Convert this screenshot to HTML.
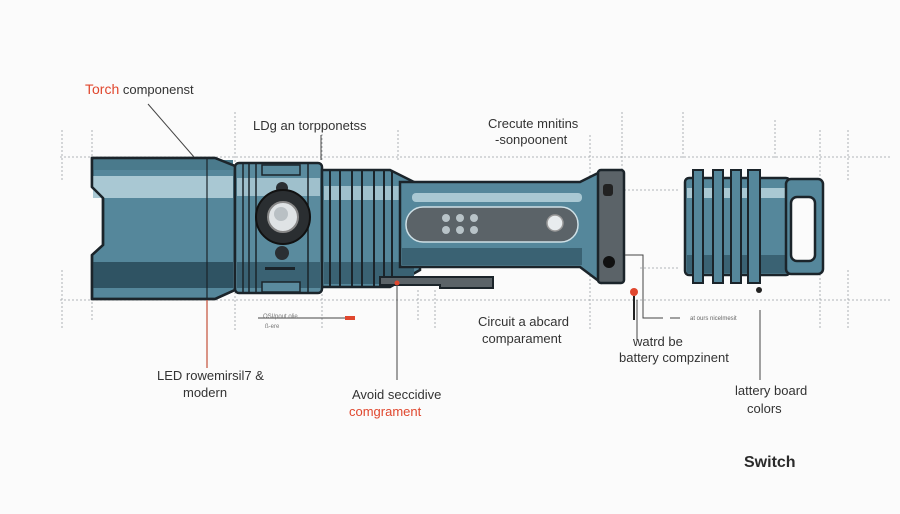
<!DOCTYPE html>
<html><head><meta charset="utf-8"><style>
html,body{margin:0;padding:0;background:#fbfbfb;}
svg{display:block}
text{font-family:"Liberation Sans",sans-serif;fill:#333}
</style></head><body>
<svg width="900" height="514" viewBox="0 0 900 514" xmlns="http://www.w3.org/2000/svg">
<rect width="900" height="514" fill="#fbfbfb"/>
<g stroke="#9aa0a4" stroke-width="0.8" stroke-dasharray="2,2" fill="none">
<line x1="60" y1="157" x2="890" y2="157"/>
<line x1="60" y1="300" x2="890" y2="300"/>
<line x1="620" y1="190" x2="680" y2="190"/>
<line x1="640" y1="268" x2="680" y2="268"/>
<line x1="62" y1="130" x2="62" y2="180"/>
<line x1="62" y1="270" x2="62" y2="330"/>
<line x1="92" y1="130" x2="92" y2="160"/>
<line x1="92" y1="270" x2="92" y2="320"/>
<line x1="235" y1="112" x2="235" y2="330"/>
<line x1="322" y1="130" x2="322" y2="160"/>
<line x1="322" y1="290" x2="322" y2="330"/>
<line x1="398" y1="130" x2="398" y2="160"/>
<line x1="418" y1="290" x2="418" y2="320"/>
<line x1="435" y1="290" x2="435" y2="330"/>
<line x1="590" y1="135" x2="590" y2="330"/>
<line x1="622" y1="112" x2="622" y2="175"/>
<line x1="683" y1="112" x2="683" y2="160"/>
<line x1="775" y1="120" x2="775" y2="160"/>
<line x1="820" y1="130" x2="820" y2="330"/>
<line x1="848" y1="130" x2="848" y2="180"/>
<line x1="848" y1="270" x2="848" y2="330"/>
</g>
<!-- head -->
<g stroke="#1b242a" stroke-width="2.5" stroke-linejoin="round">
<path d="M92 158 L215 158 L235 166 L235 290 L215 299 L92 299 L92 255 L103 245 L103 198 L92 187 Z" fill="#55879b"/>
</g>
<rect x="93" y="176" width="140" height="22" fill="#a9c8d3"/>
<rect x="93" y="262" width="140" height="26" fill="#2f5363"/>
<rect x="93" y="160" width="140" height="10" fill="#4a7a8c"/>
<line x1="207" y1="158" x2="207" y2="299" stroke="#1b242a" stroke-width="1.2"/>
<path d="M92 158 L215 158 L235 166 L235 290 L215 299 L92 299 L92 255 L103 245 L103 198 L92 187 Z" fill="none" stroke="#1b242a" stroke-width="2.5"/>
<!-- lens section -->
<rect x="235" y="163" width="87" height="130" rx="4" fill="#5a8b9e" stroke="#1b242a" stroke-width="2.5"/>
<rect x="237" y="178" width="83" height="18" fill="#9fc0cc"/>
<rect x="237" y="262" width="83" height="26" fill="#3a6273"/>
<g stroke="#1b242a" stroke-width="1.5"><line x1="243" y1="163" x2="243" y2="293"/><line x1="249" y1="163" x2="249" y2="293"/><line x1="256" y1="163" x2="256" y2="293"/><line x1="308" y1="163" x2="308" y2="293"/></g>
<rect x="262" y="165" width="38" height="10" fill="#5a8b9e" stroke="#1b242a" stroke-width="1.5"/>
<rect x="262" y="282" width="38" height="10" fill="#5a8b9e" stroke="#1b242a" stroke-width="1.5"/>
<rect x="265" y="267" width="30" height="3" fill="#1b242a"/>
<circle cx="282" cy="188" r="6" fill="#2a2f33"/>
<circle cx="282" cy="253" r="7" fill="#2a2f33"/>
<circle cx="283" cy="217" r="27" fill="#2a2e31" stroke="#111" stroke-width="2"/>
<circle cx="283" cy="217" r="15" fill="#dfe3e5" stroke="#888" stroke-width="2"/>
<circle cx="281" cy="214" r="7" fill="#b9c0c4"/>
<!-- ring section -->
<path d="M322 170 L390 170 L420 185 L420 270 L390 287 L322 287 Z" fill="#55879b" stroke="#1b242a" stroke-width="2.5"/>
<rect x="324" y="186" width="90" height="14" fill="#9fc0cc"/>
<rect x="324" y="262" width="90" height="22" fill="#3a6273"/>
<g stroke="#1b242a" stroke-width="2"><line x1="330" y1="170" x2="330" y2="287"/><line x1="340" y1="170" x2="340" y2="287"/><line x1="352" y1="170" x2="352" y2="287"/><line x1="362" y1="170" x2="362" y2="287"/><line x1="374" y1="170" x2="374" y2="287"/><line x1="384" y1="170" x2="384" y2="287"/><line x1="392" y1="171" x2="392" y2="286"/></g>
<!-- handle -->
<path d="M400 182 L580 182 L600 172 L600 282 L580 267 L400 267 Z" fill="#55879b" stroke="#1b242a" stroke-width="2.5"/>
<rect x="412" y="193" width="170" height="9" rx="4" fill="#a9c8d3"/>
<rect x="402" y="248" width="180" height="17" fill="#3a6273"/>
<rect x="406" y="207" width="172" height="35" rx="17" fill="#5b6368" stroke="#cfe0e6" stroke-width="1.5"/>
<g fill="#b8c3c8"><circle cx="446" cy="218" r="4"/><circle cx="460" cy="218" r="4"/><circle cx="474" cy="218" r="4"/><circle cx="446" cy="230" r="4"/><circle cx="460" cy="230" r="4"/><circle cx="474" cy="230" r="4"/></g>
<circle cx="555" cy="223" r="8" fill="#e8ecee" stroke="#999" stroke-width="1.5"/>
<path d="M380 277 L493 277 L493 288 L440 288 L440 285 L380 285 Z" fill="#5b6368" stroke="#1b242a" stroke-width="2"/>
<circle cx="397" cy="283" r="2.5" fill="#e0472e"/>
<!-- tail cap -->
<rect x="598" y="170" width="26" height="113" rx="3" fill="#5b6368" stroke="#1b242a" stroke-width="2.5"/>
<rect x="603" y="184" width="10" height="12" rx="3" fill="#222"/>
<circle cx="609" cy="262" r="6" fill="#111"/>
<!-- right piece -->
<rect x="685" y="178" width="105" height="97" rx="4" fill="#55879b" stroke="#1b242a" stroke-width="2.5"/>
<rect x="687" y="188" width="101" height="10" fill="#a9c8d3"/>
<rect x="687" y="255" width="101" height="18" fill="#3a6273"/>
<g fill="#55879b" stroke="#1b242a" stroke-width="2"><rect x="693" y="170" width="10" height="113"/><rect x="713" y="170" width="10" height="113"/><rect x="731" y="170" width="10" height="113"/><rect x="748" y="170" width="12" height="113"/></g>
<rect x="786" y="179" width="37" height="95" rx="5" fill="#55879b" stroke="#1b242a" stroke-width="2.5"/>
<rect x="791" y="197" width="24" height="64" rx="6" fill="#fbfbfb" stroke="#1b242a" stroke-width="2.5"/>
<!-- leaders -->
<g stroke="#444" stroke-width="1" fill="none">
<line x1="148" y1="104" x2="194" y2="157"/>
<line x1="321" y1="135" x2="321" y2="160"/>
<line x1="397" y1="285" x2="397" y2="380"/>
<polyline points="625,255 643,255 643,318 663,318"/>
<line x1="637" y1="300" x2="637" y2="340"/>
<line x1="760" y1="310" x2="760" y2="380"/>
<line x1="258" y1="318" x2="345" y2="318"/>
<line x1="670" y1="318" x2="680" y2="318"/>
</g>
<line x1="207" y1="300" x2="207" y2="368" stroke="#c5503a" stroke-width="1.2"/>
<rect x="345" y="316" width="10" height="4" fill="#e0472e"/>
<circle cx="634" cy="292" r="4" fill="#e0472e"/>
<line x1="634" y1="296" x2="634" y2="320" stroke="#222" stroke-width="2"/>
<circle cx="759" cy="290" r="3" fill="#222"/>
<!-- text -->
<text x="85" y="94" font-size="13"><tspan fill="#e0472e" style="fill:#e0472e" font-size="14">Torch</tspan> componenst</text>
<text x="253" y="130" font-size="13">LDg an torpponetss</text>
<text x="488" y="128" font-size="13">Crecute mnitins</text>
<text x="495" y="144" font-size="13">-sonpoonent</text>
<text x="263" y="318" font-size="6" fill="#777" style="fill:#777">OSI/pout olie</text>
<text x="265" y="328" font-size="6" style="fill:#777">ß-ere</text>
<text x="478" y="326" font-size="13">Circuit a abcard</text>
<text x="482" y="343" font-size="13">comparament</text>
<text x="633" y="346" font-size="13">watrd be</text>
<text x="619" y="362" font-size="13">battery compzinent</text>
<text x="690" y="320" font-size="6" style="fill:#666">at ours nicelmesit</text>
<text x="157" y="380" font-size="13">LED rowemirsil7 &amp;</text>
<text x="183" y="397" font-size="13">modern</text>
<text x="352" y="399" font-size="13">Avoid seccidive</text>
<text x="349" y="416" font-size="13" style="fill:#e0472e">comgrament</text>
<text x="735" y="395" font-size="13">lattery board</text>
<text x="747" y="413" font-size="13">colors</text>
<text x="744" y="467" font-size="16" font-weight="bold" style="fill:#2a2a2a">Switch</text>
</svg>
</body></html>
